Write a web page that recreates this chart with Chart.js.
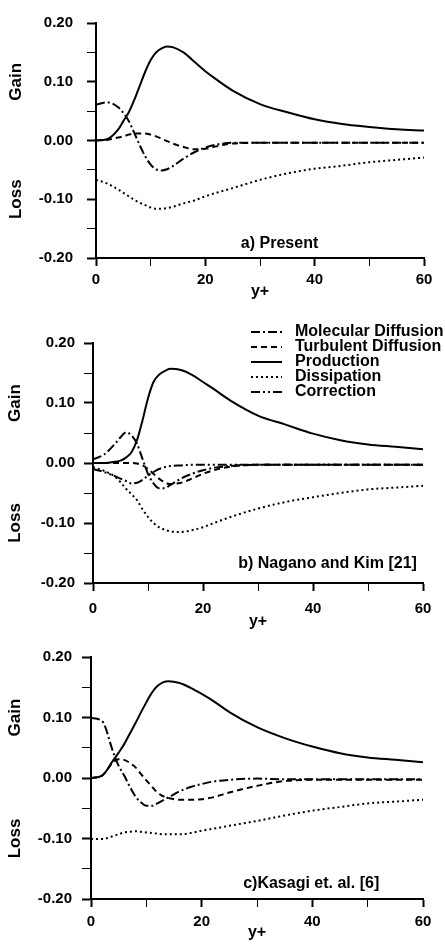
<!DOCTYPE html>
<html>
<head>
<meta charset="utf-8">
<title>Budget terms</title>
<script src="https://cdn.jsdelivr.net/npm/chart.js@4.4.1/dist/chart.umd.min.js"></script>
<style>
  html, body { margin: 0; padding: 0; background: #fff; }
  #page { position: relative; width: 445px; height: 947px; overflow: hidden; }
  canvas { position: absolute; left: 0; }
</style>
</head>
<body>
<div id="page">
  <canvas id="chartA" width="445" height="300" style="top:0px"></canvas>
  <canvas id="chartB" width="445" height="330" style="top:300px"></canvas>
  <canvas id="chartC" width="445" height="317" style="top:630px"></canvas>
</div>
<script>
'use strict';

// y+ stations shared by every curve
let yPlus = [0, 2, 4, 5, 6, 7, 8, 9, 10, 11, 12, 13, 14, 16, 18, 20, 22, 25, 30, 35, 40, 45, 50, 55, 60];

// tick labels
let xLabelled = [0, 20, 40, 60];
let yLabelled = [-0.2, -0.1, 0, 0.1, 0.2];

// a) Present
let presentMolecular = [0.061, 0.065, 0.057, 0.047, 0.033, 0.013, -0.008, -0.027, -0.041, -0.049, -0.051, -0.049, -0.044, -0.031, -0.020, -0.012, -0.007, -0.004, -0.004, -0.004, -0.004, -0.004, -0.004, -0.004, -0.004];
let presentTurbulent = [0, 0.001, 0.005, 0.007, 0.010, 0.012, 0.012, 0.012, 0.010, 0.007, 0.003, -0.001, -0.005, -0.011, -0.015, -0.014, -0.010, -0.005, -0.004, -0.004, -0.004, -0.004, -0.004, -0.004, -0.004];
let presentProduction = [0, 0.002, 0.018, 0.033, 0.048, 0.069, 0.093, 0.117, 0.137, 0.150, 0.157, 0.160, 0.159, 0.150, 0.134, 0.118, 0.104, 0.085, 0.062, 0.048, 0.036, 0.028, 0.023, 0.019, 0.017];
let presentDissipation = [-0.067, -0.073, -0.083, -0.089, -0.095, -0.101, -0.106, -0.110, -0.114, -0.116, -0.116, -0.115, -0.113, -0.107, -0.102, -0.095, -0.089, -0.081, -0.067, -0.056, -0.048, -0.043, -0.037, -0.033, -0.029];

// b) Nagano and Kim
let naganoMolecular = [0.006, 0.014, 0.032, 0.043, 0.051, 0.046, 0.032, 0.007, -0.018, -0.034, -0.042, -0.042, -0.037, -0.026, -0.018, -0.012, -0.008, -0.005, -0.003, -0.003, -0.003, -0.003, -0.003, -0.003, -0.003];
let naganoTurbulent = [0, 0, 0, 0, 0, 0, -0.001, -0.004, -0.010, -0.018, -0.026, -0.032, -0.035, -0.033, -0.026, -0.018, -0.012, -0.006, -0.003, -0.003, -0.003, -0.003, -0.003, -0.003, -0.003];
let naganoProduction = [0, 0, 0.002, 0.004, 0.009, 0.018, 0.038, 0.071, 0.108, 0.135, 0.147, 0.153, 0.157, 0.155, 0.147, 0.135, 0.123, 0.104, 0.079, 0.064, 0.049, 0.038, 0.031, 0.027, 0.023];
let naganoDissipation = [-0.007, -0.013, -0.023, -0.032, -0.043, -0.052, -0.062, -0.077, -0.090, -0.100, -0.107, -0.111, -0.114, -0.115, -0.112, -0.107, -0.100, -0.090, -0.076, -0.065, -0.057, -0.050, -0.044, -0.041, -0.038];
let naganoCorrection = [-0.010, -0.015, -0.022, -0.026, -0.030, -0.034, -0.033, -0.028, -0.021, -0.015, -0.010, -0.007, -0.005, -0.004, -0.003, -0.003, -0.003, -0.003, -0.003, -0.003, -0.003, -0.003, -0.003, -0.003, -0.003];

// c) Kasagi et al.
let kasagiMolecular = [0.099, 0.094, 0.043, 0.020, 0.004, -0.014, -0.030, -0.040, -0.046, -0.046, -0.042, -0.037, -0.032, -0.022, -0.015, -0.010, -0.006, -0.003, -0.001, -0.002, -0.002, -0.002, -0.002, -0.002, -0.002];
let kasagiTurbulent = [0, 0.004, 0.026, 0.031, 0.030, 0.025, 0.018, 0.007, -0.004, -0.014, -0.024, -0.030, -0.033, -0.036, -0.036, -0.035, -0.032, -0.024, -0.013, -0.005, -0.003, -0.003, -0.003, -0.003, -0.003];
let kasagiProduction = [0, 0.004, 0.029, 0.042, 0.056, 0.073, 0.090, 0.108, 0.125, 0.141, 0.152, 0.158, 0.160, 0.157, 0.149, 0.139, 0.128, 0.109, 0.084, 0.066, 0.052, 0.041, 0.034, 0.030, 0.026];
let kasagiDissipation = [-0.101, -0.101, -0.096, -0.093, -0.090, -0.089, -0.088, -0.089, -0.090, -0.091, -0.092, -0.093, -0.093, -0.093, -0.091, -0.087, -0.084, -0.079, -0.071, -0.062, -0.054, -0.048, -0.042, -0.039, -0.036];

let dashes = {
  molecular: [9, 3, 2, 3],
  turbulent: [6, 4],
  production: [],
  dissipation: [2, 3],
  correction: [9, 3, 2, 3, 2, 3]
};

Chart.defaults.font.family = '"Liberation Sans", Arial, Helvetica, sans-serif';
Chart.defaults.font.weight = 'bold';
Chart.defaults.color = '#000';

function line(label, values, dash) {
  return {
    label: label,
    data: yPlus.map((x, i) => ({ x: x, y: values[i] })),
    borderColor: '#000',
    borderWidth: 2,
    borderDash: dash,
    pointRadius: 0,
    fill: false,
    cubicInterpolationMode: 'monotone'
  };
}

function onList(list, value) {
  return list.some(v => Math.abs(v - value) < 1e-6);
}

// Gain / Loss side labels and the panel caption
let panelText = {
  id: 'panelText',
  afterDraw(chart, args, opts) {
    let ctx = chart.ctx;
    let x = chart.scales.x;
    let y = chart.scales.y;
    ctx.save();
    ctx.fillStyle = '#000';
    ctx.font = 'bold 17px "Liberation Sans", Arial, sans-serif';
    ctx.textAlign = 'center';
    ctx.textBaseline = 'middle';
    [['Gain', 0.1], ['Loss', -0.1]].forEach(item => {
      ctx.save();
      ctx.translate(opts.sideX, y.getPixelForValue(item[1]));
      ctx.rotate(-Math.PI / 2);
      ctx.fillText(item[0], 0, 0);
      ctx.restore();
    });
    ctx.font = 'bold 16px "Liberation Sans", Arial, sans-serif';
    ctx.textAlign = 'left';
    ctx.fillText(opts.caption, x.getPixelForValue(opts.at[0]), y.getPixelForValue(opts.at[1]));
    ctx.restore();
  }
};
Chart.register(panelText);

// key of line styles, drawn inside panel b
let keyPlugin = {
  id: 'key',
  afterDraw(chart) {
    let ctx = chart.ctx;
    ctx.save();
    ctx.font = 'bold 16px "Liberation Sans", Arial, sans-serif';
    ctx.textBaseline = 'middle';
    ctx.textAlign = 'left';
    ctx.fillStyle = '#000';
    ctx.strokeStyle = '#000';
    ctx.lineWidth = 2;
    chart.data.datasets.forEach((ds, i) => {
      let rowY = 32 + i * 15;
      ctx.beginPath();
      ctx.setLineDash(ds.borderDash);
      ctx.moveTo(251, rowY);
      ctx.lineTo(282, rowY);
      ctx.stroke();
      ctx.setLineDash([]);
      ctx.fillText(ds.label, 295, rowY);
    });
    ctx.restore();
  }
};

function makePanel(id, box, datasets, text, extra) {
  let canvasElem = document.getElementById(id);
  let h = canvasElem.height;
  return new Chart(canvasElem, {
    type: 'line',
    data: { datasets: datasets },
    plugins: extra,
    options: {
      responsive: false,
      animation: false,
      layout: { padding: { top: box.top, right: 445 - box.right, left: 0, bottom: 0 } },
      plugins: {
        legend: { display: false },
        tooltip: { enabled: false },
        panelText: text
      },
      scales: {
        x: {
          type: 'linear',
          min: 0,
          max: 60,
          afterFit: scale => { scale.height = h - box.bottom; },
          ticks: {
            stepSize: 10,
            padding: box.xPad,
            font: { size: 15 },
            callback: v => onList(xLabelled, v) ? String(v) : ''
          },
          grid: {
            drawOnChartArea: false,
            tickLength: 8,
            tickColor: '#000',
            tickWidth: ctx => onList(xLabelled, ctx.tick.value) ? 2 : 1
          },
          border: { color: '#000', width: 2 },
          title: {
            display: true,
            text: 'y+',
            font: { size: 16, lineHeight: 1 },
            padding: { top: 0, bottom: box.titlePad }
          }
        },
        y: {
          min: -0.2,
          max: 0.2,
          afterFit: scale => { scale.width = box.left; },
          ticks: {
            stepSize: 0.05,
            padding: box.yPad,
            font: { size: 15 },
            callback: v => onList(yLabelled, v) ? (Math.abs(v) < 1e-9 ? 0 : v).toFixed(2) : ''
          },
          grid: {
            drawOnChartArea: false,
            tickLength: 9,
            tickColor: '#000',
            tickWidth: ctx => onList(yLabelled, ctx.tick.value) ? 2 : 1
          },
          border: { color: '#000', width: 2 }
        }
      }
    }
  });
}

makePanel('chartA',
  { left: 96, top: 17, right: 424, bottom: 258, xPad: 5, yPad: 14, titlePad: 0 },
  [
    line('Molecular Diffusion', presentMolecular, dashes.molecular),
    line('Turbulent Diffusion', presentTurbulent, dashes.turbulent),
    line('Production', presentProduction, dashes.production),
    line('Dissipation', presentDissipation, dashes.dissipation)
  ],
  { sideX: 16, caption: 'a) Present', at: [26.5, -0.175] },
  []);

makePanel('chartB',
  { left: 93, top: 43, right: 423, bottom: 283, xPad: 9, yPad: 9, titlePad: 0 },
  [
    line('Molecular Diffusion', naganoMolecular, dashes.molecular),
    line('Turbulent Diffusion', naganoTurbulent, dashes.turbulent),
    line('Production', naganoProduction, dashes.production),
    line('Dissipation', naganoDissipation, dashes.dissipation),
    line('Correction', naganoCorrection, dashes.correction)
  ],
  { sideX: 15, caption: 'b) Nagano and Kim [21]', at: [26.4, -0.167] },
  [keyPlugin]);

makePanel('chartC',
  { left: 91, top: 27, right: 423, bottom: 269, xPad: 6, yPad: 10, titlePad: 6 },
  [
    line('Molecular Diffusion', kasagiMolecular, dashes.molecular),
    line('Turbulent Diffusion', kasagiTurbulent, dashes.turbulent),
    line('Production', kasagiProduction, dashes.production),
    line('Dissipation', kasagiDissipation, dashes.dissipation)
  ],
  { sideX: 15, caption: 'c)Kasagi et. al. [6]', at: [27.5, -0.174] },
  []);
</script>
</body>
</html>
